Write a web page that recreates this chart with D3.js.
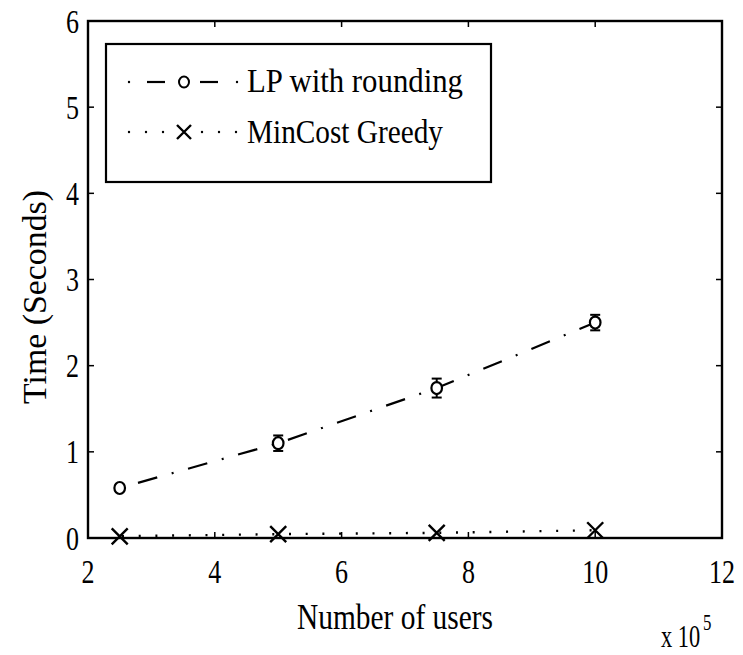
<!DOCTYPE html>
<html>
<head>
<meta charset="utf-8">
<script src="https://cdn.jsdelivr.net/npm/d3@7"></script>
<style>
  body { margin: 0; background: #fff; }
  svg text { font-family: "Liberation Serif", "Times New Roman", serif; fill: #000; }
</style>
</head>
<body>
<svg id="chart" width="743" height="655"></svg>
<script>
// Number of users (in units of 10^5)
const users = [2.5, 5, 7.5, 10];
// LP with rounding: mean runtime and error half-width (seconds)
const lpTime = [0.58, 1.10, 1.74, 2.50];
const lpErr = [0.03, 0.09, 0.11, 0.09];
// MinCost Greedy runtime (seconds)
const greedyTime = [0.02, 0.045, 0.06, 0.09];

const xTicks = [2, 4, 6, 8, 10, 12];
const yTicks = [0, 1, 2, 3, 4, 5, 6];

const svg = d3.select("#chart");
const plotL = 88, plotR = 722, plotT = 21, plotB = 538;

const x = d3.scaleLinear().domain([2, 12]).range([plotL, plotR]);
const y = d3.scaleLinear().domain([0, 6]).range([plotB, plotT]);

// condensed serif label helper
function label(sel, txt, size, width) {
  return sel.append("text").attr("font-size", size)
    .attr("textLength", width).attr("lengthAdjust", "spacingAndGlyphs").text(txt);
}

// ticks on all four sides, pointing inward
const tickLen = 6;
const g = svg.append("g");
xTicks.forEach(t => {
  g.append("line").attr("x1", x(t)).attr("x2", x(t)).attr("y1", plotB).attr("y2", plotB - tickLen)
    .attr("stroke", "#000").attr("stroke-width", 1.5);
  g.append("line").attr("x1", x(t)).attr("x2", x(t)).attr("y1", plotT).attr("y2", plotT + tickLen)
    .attr("stroke", "#000").attr("stroke-width", 1.5);
  const s = String(t);
  label(g, s, 34, s.length * 13).attr("x", x(t) - s.length * 6.5).attr("y", plotB + 45);
});
yTicks.forEach(t => {
  g.append("line").attr("x1", plotL).attr("x2", plotL + tickLen).attr("y1", y(t)).attr("y2", y(t))
    .attr("stroke", "#000").attr("stroke-width", 1.5);
  g.append("line").attr("x1", plotR).attr("x2", plotR - tickLen).attr("y1", y(t)).attr("y2", y(t))
    .attr("stroke", "#000").attr("stroke-width", 1.5);
  label(g, String(t), 34, 13).attr("x", 66).attr("y", y(t) + 11.5);
});

// axes box
svg.append("rect").attr("x", plotL).attr("y", plotT).attr("width", plotR - plotL).attr("height", plotB - plotT)
  .attr("fill", "none").attr("stroke", "#000").attr("stroke-width", 2.4);

// LP with rounding: dash-dot line with circle markers and error bars
const seriesLine = d3.line().x((d, i) => x(users[i])).y(d => y(d));
svg.append("path").datum(lpTime).attr("d", seriesLine)
  .attr("fill", "none").attr("stroke", "#000").attr("stroke-width", 2.2)
  .attr("stroke-dasharray", "20,15,2,15").attr("stroke-dashoffset", 33);

users.forEach((u, i) => {
  const cx = x(u);
  const y1 = y(lpTime[i] + lpErr[i]), y2 = y(lpTime[i] - lpErr[i]);
  svg.append("line").attr("x1", cx).attr("x2", cx).attr("y1", y1).attr("y2", y2)
    .attr("stroke", "#000").attr("stroke-width", 2);
  [y1, y2].forEach(yy => svg.append("line").attr("x1", cx - 5).attr("x2", cx + 5)
    .attr("y1", yy).attr("y2", yy).attr("stroke", "#000").attr("stroke-width", 2));
  svg.append("ellipse").attr("cx", cx).attr("cy", y(lpTime[i])).attr("rx", 5.3).attr("ry", 6)
    .attr("fill", "#fff").attr("stroke", "#000").attr("stroke-width", 2.2);
});

// MinCost Greedy: dotted line with x markers
svg.append("path").datum(greedyTime).attr("d", seriesLine)
  .attr("fill", "none").attr("stroke", "#000").attr("stroke-width", 2.4)
  .attr("stroke-dasharray", "2,14.7").attr("stroke-dashoffset", 14.4);

function cross(sel, cx, cy, r) {
  sel.append("path").attr("d", `M${cx - r},${cy - r}L${cx + r},${cy + r}M${cx - r},${cy + r}L${cx + r},${cy - r}`)
    .attr("stroke", "#000").attr("stroke-width", 2.4).attr("fill", "none");
}
users.forEach((u, i) => cross(svg, x(u), y(greedyTime[i]), 8));

// legend
const lg = svg.append("g");
lg.append("rect").attr("x", 106).attr("y", 44).attr("width", 385).attr("height", 138)
  .attr("fill", "#fff").attr("stroke", "#000").attr("stroke-width", 2.2);
const legendNames = ["LP with rounding", "MinCost Greedy"];
const legendWidths = [216, 196];
const rowY = [82, 132];
// row 1 sample: dash-dot with circle
[129, 237].forEach(cx =>
  lg.append("circle").attr("cx", cx).attr("cy", rowY[0]).attr("r", 1.2).attr("fill", "#000"));
[[147, 165], [200, 218]].forEach(([a, b]) =>
  lg.append("line").attr("x1", a).attr("x2", b).attr("y1", rowY[0]).attr("y2", rowY[0])
    .attr("stroke", "#000").attr("stroke-width", 2.2));
lg.append("ellipse").attr("cx", 184).attr("cy", rowY[0]).attr("rx", 5).attr("ry", 5.5)
  .attr("fill", "#fff").attr("stroke", "#000").attr("stroke-width", 2);
// row 2 sample: dotted with cross
[129, 146, 163, 202, 219, 236].forEach(cx =>
  lg.append("circle").attr("cx", cx).attr("cy", rowY[1]).attr("r", 1.2).attr("fill", "#000"));
cross(lg, 184, rowY[1], 7);
legendNames.forEach((n, i) => {
  label(lg, n, 34, legendWidths[i]).attr("x", 247).attr("y", [92, 143][i]);
});

// axis labels
label(svg, "Number of users", 35, 196).attr("x", 297).attr("y", 629);
svg.append("text").attr("transform", "translate(46,404) rotate(-90)")
  .attr("font-size", 34).attr("textLength", 214).attr("lengthAdjust", "spacingAndGlyphs")
  .text("Time (Seconds)");

// exponent annotation for the x axis, horizontally condensed
const ex = svg.append("g").attr("transform", "translate(661,647) scale(0.7,1)")
  .append("text").attr("font-size", 32);
ex.append("tspan").attr("x", 0).text("x 10");
ex.append("tspan").attr("x", 60).attr("dy", -17).attr("font-size", 24).text("5");
</script>
</body>
</html>
